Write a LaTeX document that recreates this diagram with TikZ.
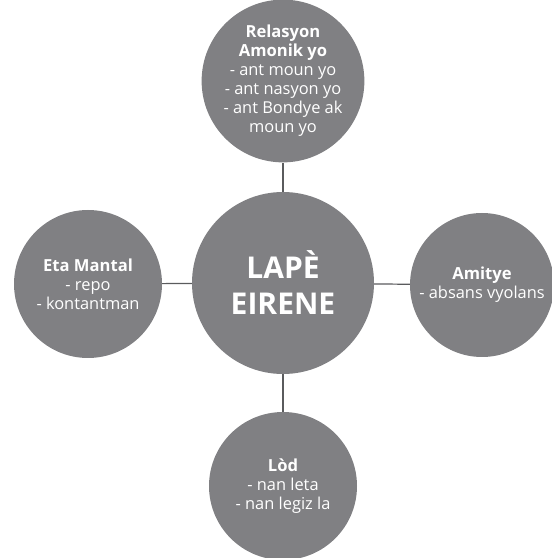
\documentclass[tikz,border=0pt]{standalone}
\usepackage{fontspec}
\setmainfont{Open Sans}
\definecolor{bubblegray}{HTML}{808083}
\definecolor{linkgray}{HTML}{5A5B5D}
\newcommand{\bubbletitle}[1]{{\fontsize{16.6}{19}\selectfont\bfseries #1}}
\tikzset{
  bubble/.style={circle, fill=bubblegray, text=white, align=center, inner sep=0pt, font=\fontsize{16.4}{19}\selectfont},
  hub/.style={bubble, font=\fontsize{30}{36}\selectfont\bfseries},
  link/.style={draw=linkgray, line width=1.2pt}
}

\begin{document}
\begin{tikzpicture}[x=1pt, y=1pt]
\useasboundingbox (0,0) rectangle (552,558);
\node[hub, minimum size=182pt] (lape) at (283,275) {LAPÈ\\EIRENE};
\node[bubble, minimum size=147pt] (relasyon) at (283,477) {\bubbletitle{Relasyon}\\\bubbletitle{Amonik yo}\\- ant moun yo\\- ant nasyon yo\\- ant Bondye ak\\moun yo};
\node[bubble, minimum size=148pt] (eta) at (88,274) {\bubbletitle{Eta Mantal}\\- repo\\- kontantman};
\node[bubble, minimum size=144pt] (amitye) at (482,273) {\bubbletitle{Amitye}\\- absans vyolans};
\node[bubble, minimum size=148pt] (lod) at (283,72) {\bubbletitle{Lòd}\\- nan leta\\- nan legiz la};

\draw[link] (lape) -- (relasyon);
\draw[link] (lape) -- (eta);
\draw[link] (lape) -- (amitye);
\draw[link] (lape) -- (lod);
\end{tikzpicture}
\end{document}
